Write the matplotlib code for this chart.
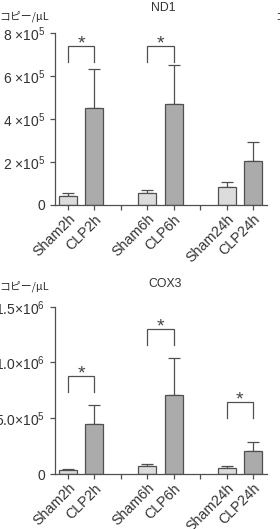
import matplotlib
matplotlib.use("Agg")
import matplotlib.pyplot as plt
from matplotlib.transforms import ScaledTranslation

plt.rcParams['font.family'] = ['Liberation Sans', 'DejaVu Sans']
plt.rcParams['mathtext.fontset'] = 'custom'
plt.rcParams['mathtext.rm'] = 'Liberation Sans'
plt.rcParams['mathtext.it'] = 'Liberation Sans'

# ---- data ----
categories = ["Sham2h", "CLP2h", "", "Sham6h", "CLP6h", "", "Sham24h", "CLP24h"]
groups = ["Sham", "CLP", "gap", "Sham", "CLP", "gap", "Sham", "CLP"]

nd1_mean = [0.42e5, 4.50e5, None, 0.54e5, 4.70e5, None, 0.82e5, 2.03e5]
nd1_err = [0.12e5, 1.81e5, None, 0.17e5, 1.80e5, None, 0.23e5, 0.90e5]
nd1_yticks = [0, 2e5, 4e5, 6e5, 8e5]
nd1_yticklabels = ["0", "2 ×$10^{5}$", "4 ×$10^{5}$", "6 ×$10^{5}$", "8 ×$10^{5}$"]
nd1_brackets = [(0, 1, 7.40e5, 6.65e5), (3, 4, 7.40e5, 6.65e5)]

cox3_mean = [0.33e5, 4.45e5, None, 0.69e5, 7.10e5, None, 0.56e5, 2.03e5]
cox3_err = [0.09e5, 1.70e5, None, 0.18e5, 3.27e5, None, 0.16e5, 0.84e5]
cox3_yticks = [0, 5e5, 1.0e6, 1.5e6]
cox3_yticklabels = ["0", "5.0×$10^{5}$", "1.0×$10^{6}$", "1.5×$10^{6}$"]
cox3_brackets = [(0, 1, 8.78e5, 7.35e5), (3, 4, 13.0e5, 11.6e5), (6, 7, 6.42e5, 5.00e5)]

titles = ["ND1", "COX3"]
ylabel = "コピー/μL"

# ---- style ----
W, H = 280, 529
fill = {"Sham": "#dcdcdc", "CLP": "#ababab"}
edge = "#505050"
txt = "#333333"

fig = plt.figure(figsize=(W / 100, H / 100), dpi=100)

def panel(ax, means, errs, yticks, ylabels, ymax, brackets):
    xs = [i for i, g in enumerate(groups) if g != "gap"]
    m = [means[i] for i in xs]
    e = [errs[i] for i in xs]
    cols = [fill[groups[i]] for i in xs]
    ax.errorbar(xs, m, yerr=[[0] * len(e), e], fmt="none", ecolor=edge,
                elinewidth=0.9, capsize=4.5, capthick=0.9, zorder=1)
    ax.bar(xs, m, width=0.68, color=cols, edgecolor=edge, linewidth=0.9, zorder=2)
    ax.set_xlim(-0.49, 7.53)
    ax.set_ylim(0, ymax)
    ax.set_xticks(range(len(categories)))
    ax.set_xticklabels(categories, rotation=45, ha="right", va="top",
                       rotation_mode="anchor", fontsize=10.3, color=txt)
    off = ScaledTranslation(6 / 100, 0, fig.dpi_scale_trans)
    for lab in ax.get_xticklabels():
        lab.set_transform(lab.get_transform() + off)
    ax.set_yticks(yticks)
    ax.set_yticklabels(ylabels, fontsize=10, color=txt)
    for s in ["top", "right"]:
        ax.spines[s].set_visible(False)
    for s in ["left", "bottom"]:
        ax.spines[s].set_color(edge)
        ax.spines[s].set_linewidth(0.9)
    ax.tick_params(axis="both", direction="out", length=3.5, width=0.9,
                   color=edge, pad=3.5)
    ax.tick_params(axis="x", pad=1.5)
    ax.patch.set_visible(False)
    for (a, b, top, low) in brackets:
        ax.plot([a, a, b, b], [low, top, top, low], color=edge, lw=0.9,
                solid_joinstyle="miter", clip_on=False)
        ax.annotate("*", xy=((a + b) / 2, top), xytext=(0, -1.5),
                    textcoords="offset points", ha="center", va="baseline",
                    fontsize=14, color="#444444", annotation_clip=False)

ax1 = fig.add_axes([55 / W, (H - 205) / H, (267 - 55) / W, (205 - 33) / H])
panel(ax1, nd1_mean, nd1_err, nd1_yticks, nd1_yticklabels, 8e5, nd1_brackets)

ax2 = fig.add_axes([55 / W, (H - 474) / H, (267 - 55) / W, (474 - 306.7) / H])
panel(ax2, cox3_mean, cox3_err, cox3_yticks, cox3_yticklabels, 1.5e6, cox3_brackets)

fig.text(163 / W, 1 - 8 / H, titles[0], ha="center", va="center", fontsize=8.8, color=txt)
fig.text(165 / W, 1 - 284 / H, titles[1], ha="center", va="center", fontsize=8.8, color=txt)

jp = ['Noto Sans CJK JP', 'DejaVu Sans']
fig.text(-1 / W, 1 - 16 / H, ylabel, ha="left", va="center", fontsize=7.8,
         color=txt, family=jp)
fig.text(275 / W, 1 - 16 / H, ylabel, ha="left", va="center", fontsize=7.8,
         color=txt, family=jp)
fig.text(-1 / W, 1 - 286 / H, ylabel, ha="left", va="center", fontsize=7.8,
         color=txt, family=jp)

fig.savefig("out.png", dpi=100)
